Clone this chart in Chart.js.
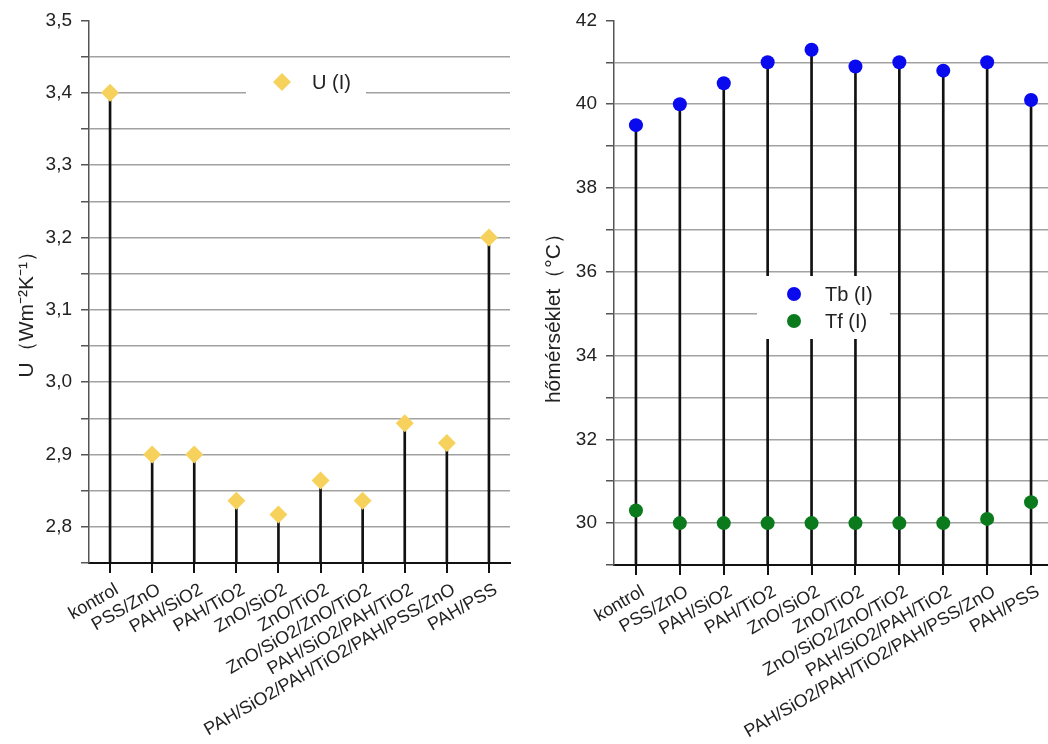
<!DOCTYPE html>
<html lang="hu">
<head>
<meta charset="UTF-8">
<title>U és hőmérséklet</title>
<script src="https://cdn.jsdelivr.net/npm/chart.js"></script>
<style>
    html, body {
        margin: 0;
        padding: 0;
        width: 1048px;
        height: 744px;
        overflow: hidden;
        background: #fff;
    }
    #chart-u { position: absolute; left: 0; top: 0; }
    #chart-t { position: absolute; left: 530px; top: 0; }
</style>
</head>
<body>
<canvas id="chart-u" width="530" height="744"></canvas>
<canvas id="chart-t" width="530" height="744"></canvas>
<script>
var categories = ['kontrol', 'PSS/ZnO', 'PAH/SiO2', 'PAH/TiO2', 'ZnO/SiO2', 'ZnO/TiO2',
    'ZnO/SiO2/ZnO/TiO2', 'PAH/SiO2/PAH/TiO2', 'PAH/SiO2/PAH/TiO2/PAH/PSS/ZnO', 'PAH/PSS'];
var uValues = [3.40, 2.90, 2.90, 2.836, 2.817, 2.864, 2.836, 2.943, 2.916, 3.20];
var tbValues = [39.5, 40.0, 40.5, 41.0, 41.3, 40.9, 41.0, 40.8, 41.0, 40.1];
var tfValues = [30.3, 30.0, 30.0, 30.0, 30.0, 30.0, 30.0, 30.0, 30.1, 30.5];
var uMin = 2.75, uMax = 3.5, uStep = 0.05;
var tMin = 29, tMax = 42, tStep = 1;

var FONT = "'Liberation Sans', Arial, sans-serif";
var TEXT = '#222';

// legend drawn after the datasets so its white box hides stems and grid
var legendBox = {
    id: 'legendBox',
    afterDatasetsDraw: function (chart, args, opts) {
        if (!opts || !opts.box) return;
        var ctx = chart.ctx;
        var b = opts.box;
        ctx.save();
        ctx.fillStyle = '#fff';
        ctx.fillRect(b[0], b[1], b[2], b[3]);
        ctx.font = opts.font;
        ctx.textBaseline = 'middle';
        ctx.textAlign = 'left';
        var y = opts.y;
        chart.data.datasets.forEach(function (ds) {
            if (ds.type === 'bar') return;
            var r = ds.pointRadius;
            ctx.fillStyle = ds.backgroundColor;
            ctx.beginPath();
            if (ds.pointStyle === 'rectRot') {
                ctx.moveTo(opts.x, y - r);
                ctx.lineTo(opts.x + r, y);
                ctx.lineTo(opts.x, y + r);
                ctx.lineTo(opts.x - r, y);
                ctx.closePath();
            } else {
                ctx.arc(opts.x, y, r, 0, Math.PI * 2);
            }
            ctx.fill();
            ctx.fillStyle = TEXT;
            ctx.fillText(ds.label, opts.textX, y + 1);
            y += opts.step;
        });
        ctx.restore();
    }
};

function yAxis(min, max, step, everyN, decimals, title, titlePad, width) {
    return {
        type: 'linear',
        min: min,
        max: max,
        afterFit: function (s) { s.width = width; },
        ticks: {
            stepSize: step,
            color: TEXT,
            font: { family: FONT, size: 19 },
            padding: 9,
            callback: function (v) {
                var q = v / (step * everyN);
                if (Math.abs(q - Math.round(q)) > 1e-6) return '';
                return v.toFixed(decimals).replace('.', ',');
            }
        },
        grid: {
            color: function (c) {
                return c.tick && c.tick.value >= max - 1e-9 ? 'rgba(0,0,0,0)' : '#a2a2a2';
            },
            tickColor: '#555',
            tickLength: 8,
            lineWidth: 1.5
        },
        border: { color: '#555', width: 1.5 },
        title: {
            display: true,
            text: title,
            color: TEXT,
            font: { family: FONT, size: 21 },
            padding: { top: titlePad, bottom: 0 }
        }
    };
}

function xAxis(height) {
    return {
        type: 'category',
        offset: true,
        afterFit: function (s) { s.height = height; },
        ticks: {
            autoSkip: false,
            minRotation: 30,
            maxRotation: 30,
            color: TEXT,
            padding: 6,
            labelOffset: 7,
            font: { family: FONT, size: 18 }
        },
        grid: {
            offset: false,
            drawOnChartArea: false,
            color: '#111',
            tickLength: 10,
            lineWidth: 2
        },
        border: { color: '#111', width: 2 }
    };
}

new Chart(document.getElementById('chart-u'), {
    type: 'bar',
    plugins: [legendBox],
    data: {
        labels: categories,
        datasets: [{
            type: 'line',
            label: 'U (I)',
            data: uValues,
            showLine: false,
            pointStyle: 'rectRot',
            pointRadius: 9,
            pointHoverRadius: 9,
            pointBorderWidth: 0,
            backgroundColor: '#f6d25c',
            borderColor: '#f6d25c',
            order: 1
        }, {
            type: 'bar',
            label: '',
            data: uValues.map(function (v) { return [uMin, v]; }),
            backgroundColor: '#111',
            barThickness: 2,
            order: 2
        }]
    },
    options: {
        responsive: false,
        animation: false,
        layout: { padding: { top: 18, right: 20, bottom: 0, left: 0 } },
        plugins: {
            legend: { display: false },
            tooltip: { enabled: false },
            legendBox: { box: [246, 69, 120, 27], x: 282, y: 82, textX: 312, step: 27, font: '20px ' + FONT }
        },
        scales: {
            x: xAxis(181),
            y: yAxis(uMin, uMax, uStep, 2, 1, 'U（Wm⁻²K⁻¹）\u00a0\u00a0\u00a0\u00a0\u00a0\u00a0', 15, 89)
        }
    }
});

new Chart(document.getElementById('chart-t'), {
    type: 'bar',
    plugins: [legendBox],
    data: {
        labels: categories,
        datasets: [{
            type: 'line',
            label: 'Tb (I)',
            data: tbValues,
            showLine: false,
            pointStyle: 'circle',
            pointRadius: 7,
            pointHoverRadius: 7,
            pointBorderWidth: 0,
            backgroundColor: '#0a0aee',
            borderColor: '#0a0aee',
            order: 1
        }, {
            type: 'line',
            label: 'Tf (I)',
            data: tfValues,
            showLine: false,
            pointStyle: 'circle',
            pointRadius: 7,
            pointHoverRadius: 7,
            pointBorderWidth: 0,
            backgroundColor: '#0b7a1c',
            borderColor: '#0b7a1c',
            order: 1
        }, {
            type: 'bar',
            label: '',
            data: tbValues.map(function (v) { return [tMin, v]; }),
            backgroundColor: '#111',
            barThickness: 2,
            order: 2
        }]
    },
    options: {
        responsive: false,
        animation: false,
        layout: { padding: { top: 14, right: 6, bottom: 0, left: 0 } },
        plugins: {
            legend: { display: false },
            tooltip: { enabled: false },
            legendBox: { box: [227, 276, 133, 63], x: 264, y: 294, textX: 295, step: 27, font: '20px ' + FONT }
        },
        scales: {
            x: xAxis(179),
            y: yAxis(tMin, tMax, tStep, 2, 0, 'hőmérséklet（°C）\u00a0\u00a0\u00a0\u00a0\u00a0\u00a0\u00a0', 12, 84)
        }
    }
});
</script>
</body>
</html>
